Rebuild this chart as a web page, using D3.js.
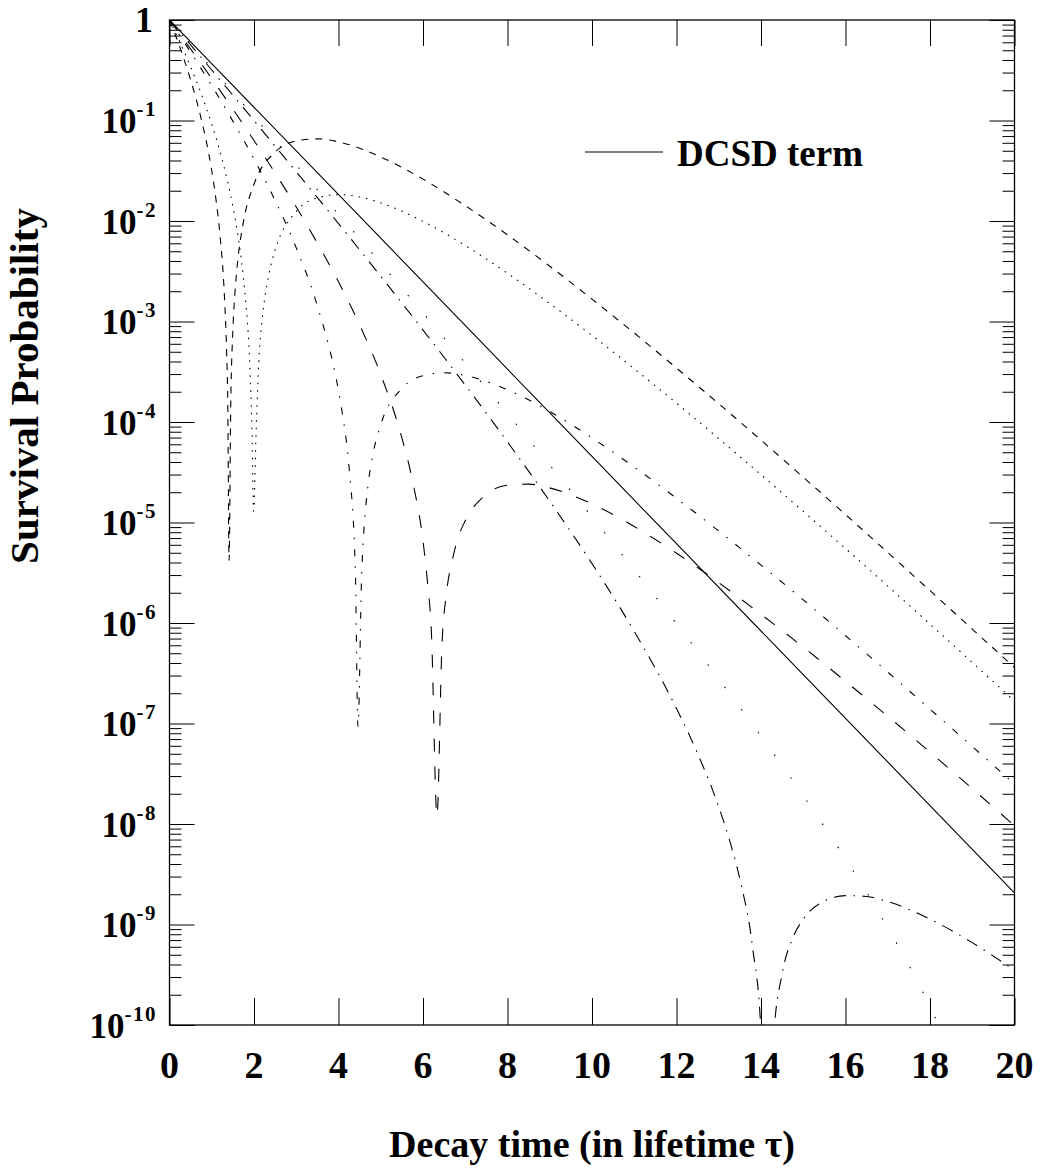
<!DOCTYPE html>
<html>
<head>
<meta charset="utf-8">
<script src="https://cdn.jsdelivr.net/npm/d3@7"></script>
<style>
  html, body { margin: 0; padding: 0; background: #fff; }
  svg { display: block; }
  text { font-family: "Liberation Serif", "Times New Roman", serif; font-weight: bold; fill: #000; }
</style>
</head>
<body>
<svg id="chart" width="1042" height="1173"></svg>
<script>
// ---------- data ----------
const xTickValues = [0, 2, 4, 6, 8, 10, 12, 14, 16, 18, 20];
const xTickLabels = ["0", "2", "4", "6", "8", "10", "12", "14", "16", "18", "20"];
const yTickExponents = [0, -1, -2, -3, -4, -5, -6, -7, -8, -9, -10];
const xTitle = "Decay time (in lifetime \u03c4)";
const yTitle = "Survival Probability";
const legendLabel = "DCSD term";

// DCSD term (solid)
const dcsdTerm = [[0, 1], [5, 6.74e-3], [10, 4.54e-5], [15, 3.06e-7], [20, 2.06e-9]];

// short-dashed curve
const shortDashed = [[0, 1], [0.25, 0.528], [0.5, 0.253], [0.75, 0.104], [1.0, 0.0316], [1.1, 0.0164],
  [1.2, 6.9e-3], [1.3, 1.78e-3], [1.35, 5.3e-4], [1.38, 1.47e-4], [1.41, 4.2e-6], [1.45, 1.5e-4],
  [1.5, 8.2e-4], [1.55, 1.96e-3], [1.6, 3.5e-3], [1.75, 9.8e-3], [2, 0.0232], [2.5, 0.0484],
  [3, 0.0626], [3.5, 0.0657], [4, 0.0613], [5, 0.0433], [6, 0.0261], [7, 0.0142], [8, 7.28e-3],
  [9, 3.55e-3], [10, 1.67e-3], [11, 7.67e-4], [12, 3.44e-4], [13, 1.52e-4], [14, 6.6e-5],
  [15, 2.82e-5], [16, 1.2e-5], [17, 5.03e-6], [18, 2.1e-6], [19, 8.7e-7], [20, 3.6e-7]];

// dotted curve
const dotted = [[0, 1], [0.25, 0.596], [0.5, 0.341], [0.75, 0.1845], [1, 0.092], [1.25, 0.0403],
  [1.5, 0.0139], [1.6, 8.08e-3], [1.75, 2.72e-3], [1.8, 1.65e-3], [1.9, 3.74e-4], [1.95, 8.9e-5],
  [1.99, 1.3e-5], [2.05, 8.0e-5], [2.1, 3.06e-4], [2.2, 1.11e-3], [2.25, 1.65e-3], [2.35, 2.92e-3],
  [2.5, 5.13e-3], [3, 0.01245], [3.5, 0.017], [4, 0.0183], [4.5, 0.01736], [5, 0.01516],
  [6, 9.92e-3], [7, 5.7e-3], [8, 3.02e-3], [9, 1.51e-3], [10, 7.26e-4], [11, 3.38e-4],
  [12, 1.54e-4], [13, 6.84e-5], [14, 2.99e-5], [15, 1.29e-5], [16, 5.51e-6], [17, 2.33e-6],
  [18, 9.75e-7], [19, 4.05e-7], [20, 1.67e-7]];

// fine dash-dot curve
const dashDotFine = [[0, 1], [0.5, 0.4785], [1, 0.2218], [1.5, 0.0986], [2, 0.0414], [2.5, 0.016],
  [3, 5.4e-3], [3.5, 1.43e-3], [4, 2.04e-4], [4.1, 1.15e-4], [4.25, 3.52e-5], [4.4, 3.18e-6],
  [4.46, 9.3e-8], [4.55, 3.2e-6], [4.6, 8.2e-6], [4.7, 2.37e-5], [4.8, 4.42e-5], [5, 9.38e-5],
  [5.5, 2.16e-4], [6, 2.89e-4], [6.5, 3.09e-4], [7, 2.91e-4], [8, 2.09e-4], [9, 1.27e-4],
  [10, 6.94e-5], [11, 3.56e-5], [12, 1.74e-5], [13, 8.22e-6], [14, 3.77e-6], [15, 1.7e-6],
  [16, 7.47e-7], [17, 3.25e-7], [18, 1.39e-7], [19, 5.91e-8], [20, 2.49e-8]];

// long-dashed curve
const longDashed = [[0, 1], [0.5, 0.514], [1, 0.261], [1.5, 0.13], [2, 0.0633], [2.5, 0.03],
  [3, 0.0138], [3.5, 6.02e-3], [4, 2.48e-3], [4.5, 9.25e-4], [5, 2.96e-4], [5.5, 6.95e-5],
  [5.75, 2.63e-5], [6, 6.52e-6], [6.1, 2.72e-6], [6.2, 7.9e-7], [6.33, 1.2e-8], [6.45, 6.2e-7],
  [6.55, 1.9e-6], [6.7, 4.33e-6], [6.85, 7.44e-6], [7, 1.04e-5], [7.5, 1.91e-5], [8, 2.35e-5],
  [8.5, 2.41e-5], [9, 2.21e-5], [10, 1.53e-5], [11, 9.12e-6], [12, 4.95e-6], [13, 2.52e-6],
  [14, 1.22e-6], [15, 5.76e-7], [16, 2.63e-7], [17, 1.18e-7], [18, 5.19e-8], [19, 2.25e-8],
  [20, 9.6e-9]];

// long dash-dot curve
const dashDotLong = [[0, 1], [1, 0.318], [2, 0.0998], [3, 0.0309], [4, 9.42e-3], [5, 2.82e-3],
  [6, 8.22e-4], [7, 2.33e-4], [8, 6.33e-5], [9, 1.63e-5], [10, 3.9e-6], [11, 8.24e-7],
  [12, 1.41e-7], [12.5, 5.02e-8], [13, 1.48e-8], [13.25, 7.0e-9], [13.5, 2.83e-9],
  [13.8, 5.95e-10], [14.0, 8.5e-11], [14.14, 1e-12], [14.3, 7.6e-11], [14.5, 3.23e-10],
  [14.75, 7.3e-10], [15, 1.13e-9], [15.5, 1.71e-9], [16, 1.94e-9], [16.5, 1.9e-9], [17, 1.69e-9],
  [18, 1.13e-9], [19, 6.6e-10], [20, 3.5e-10]];

// sparse dotted curve
const sparseDotted = [[0, 1], [1, 0.332], [2, 0.1096], [3, 0.036], [4, 0.0117], [5, 3.79e-3],
  [6, 1.215e-3], [7, 3.85e-4], [8, 1.21e-4], [9, 3.73e-5], [10, 1.135e-5], [11, 3.38e-6],
  [12, 9.83e-7], [13, 2.77e-7], [14, 7.48e-8], [15, 1.91e-8], [16, 4.5e-9], [17, 9.3e-10],
  [18, 1.52e-10], [18.5, 5.2e-11], [19, 1.4e-11]];

// ---------- layout ----------
const svg = d3.select("#chart");
const L = 169.5, R = 1014.5, T = 20, B = 1025;
const x = d3.scaleLinear().domain([0, 20]).range([L, R]);
const y = d3.scaleLog().domain([1e-10, 1]).range([B, T]);

svg.append("rect").attr("width", 1042).attr("height", 1173).attr("fill", "#fff");

svg.append("defs").append("clipPath").attr("id", "plotclip")
  .append("rect").attr("x", L).attr("y", T).attr("width", R - L).attr("height", B - T);

// ---------- axes (ticks via d3 axes) ----------
const majorY = yTickExponents.map(e => Math.pow(10, e));
const minorY = [];
for (let e = -10; e < 0; e++) for (let m = 2; m <= 9; m++) minorY.push(m * Math.pow(10, e));

function styleAxis(g) {
  g.select(".domain").remove();
  g.selectAll(".tick line").attr("stroke", "#000").attr("stroke-width", 1);
  g.selectAll(".tick text").remove();
}
svg.append("g").attr("transform", `translate(0,${B})`)
  .call(d3.axisBottom(x).tickValues(xTickValues).tickSize(-27).tickFormat("")).call(styleAxis);
svg.append("g").attr("transform", `translate(0,${T})`)
  .call(d3.axisTop(x).tickValues(xTickValues).tickSize(-26).tickFormat("")).call(styleAxis);
svg.append("g").attr("transform", `translate(${L},0)`)
  .call(d3.axisLeft(y).tickValues(majorY).tickSize(-25).tickFormat("")).call(styleAxis);
svg.append("g").attr("transform", `translate(${L},0)`)
  .call(d3.axisLeft(y).tickValues(minorY).tickSize(-12).tickFormat("")).call(styleAxis);
svg.append("g").attr("transform", `translate(${R},0)`)
  .call(d3.axisRight(y).tickValues(majorY).tickSize(-25).tickFormat("")).call(styleAxis);
svg.append("g").attr("transform", `translate(${R},0)`)
  .call(d3.axisRight(y).tickValues(minorY).tickSize(-12).tickFormat("")).call(styleAxis);

// frame
svg.append("rect").attr("x", L).attr("y", T).attr("width", R - L).attr("height", B - T)
  .attr("fill", "none").attr("stroke", "#000").attr("stroke-width", 1.3);

// x tick labels
svg.append("g").selectAll("text").data(xTickValues).join("text")
  .attr("x", d => x(d)).attr("y", 1078).attr("text-anchor", "middle")
  .attr("font-size", 38).text((d, i) => xTickLabels[i]);

// y tick labels
const yl = svg.append("g");
yTickExponents.forEach(e => {
  const yy = y(Math.pow(10, e));
  if (e === 0) {
    yl.append("text").attr("x", 153).attr("y", yy + 12).attr("text-anchor", "end")
      .attr("font-size", 36).text("1");
  } else {
    const t = yl.append("text").attr("x", 157).attr("y", yy + 12.5).attr("text-anchor", "end")
      .attr("font-size", 35);
    t.append("tspan").text("10");
    t.append("tspan").attr("font-size", 21).attr("dy", -17).attr("letter-spacing", 1.5)
      .text("-" + (-e));
  }
});

// titles
svg.append("text").attr("x", 592).attr("y", 1157).attr("text-anchor", "middle")
  .attr("font-size", 38).text(xTitle);
svg.append("text").attr("transform", "translate(38,386) rotate(-90)").attr("text-anchor", "middle")
  .attr("font-size", 41).text(yTitle);

// ---------- curves ----------
const series = [
  { data: dcsdTerm, dash: null },
  { data: shortDashed, dash: "7,7" },
  { data: dotted, dash: "1.5,6" },
  { data: dashDotFine, dash: "7,10,1.5,10" },
  { data: longDashed, dash: "13,15" },
  { data: dashDotLong, dash: "12,7.5,1.5,7.5" },
  { data: sparseDotted, dash: "1.5,26.5" }
];
const line = d3.line().x(d => x(d[0])).y(d => y(d[1])).curve(d3.curveMonotoneX);
const cg = svg.append("g").attr("clip-path", "url(#plotclip)");
series.forEach(s => {
  cg.append("path").attr("d", line(s.data)).attr("fill", "none").attr("stroke", "#000")
    .attr("stroke-width", 1.1).attr("stroke-dasharray", s.dash);
});

// ---------- legend ----------
svg.append("line").attr("x1", 585).attr("x2", 663).attr("y1", 152).attr("y2", 152)
  .attr("stroke", "#000").attr("stroke-width", 1.1);
svg.append("text").attr("x", 677).attr("y", 166).attr("font-size", 37).text(legendLabel);
</script>
</body>
</html>
